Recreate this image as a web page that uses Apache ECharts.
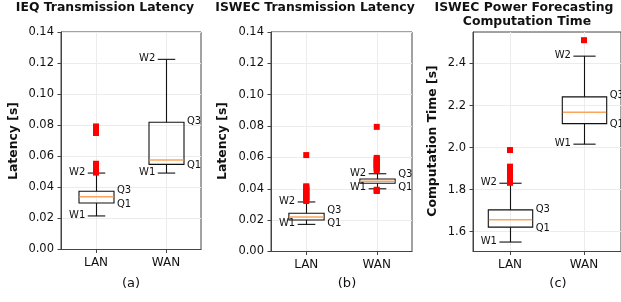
<!DOCTYPE html>
<html>
<head>
<meta charset="utf-8">
<script src="https://cdn.jsdelivr.net/npm/echarts@6/dist/echarts.min.js"></script>
<style>
  html, body { margin: 0; padding: 0; background: #fff; }
  #chart { width: 621px; height: 302px; }
</style>
</head>
<body>
<div id="chart"></div>
<script>
// ---- data ----
const categories = ['LAN', 'WAN'];
const panelTitles = ['IEQ Transmission Latency', 'ISWEC Transmission Latency', 'ISWEC Power Forecasting', 'Computation Time'];
const yNames = ['Latency [s]', 'Latency [s]', 'Computation Time [s]'];
const panelTags = ['(a)', '(b)', '(c)'];
const latencyTicks = [0, 0.02, 0.04, 0.06, 0.08, 0.10, 0.12, 0.14];
const computeTicks = [1.6, 1.8, 2.0, 2.2, 2.4];

// [W1, Q1, median, Q3, W2] for LAN, WAN
const ieqBoxes = [
    [0.0216, 0.0299, 0.0340, 0.0375, 0.0492],
    [0.0492, 0.0548, 0.0576, 0.0819, 0.1224]
];
const iswecBoxes = [
    [0.0173, 0.0201, 0.0220, 0.0244, 0.0316],
    [0.0400, 0.0435, 0.0448, 0.0462, 0.0496]
];
const computeBoxes = [
    [1.550, 1.621, 1.656, 1.703, 1.830],
    [2.016, 2.114, 2.168, 2.241, 2.435]
];

const ieqOutliersLAN = [0.0495, 0.0505, 0.0515, 0.0530, 0.0545, 0.0552, 0.0750, 0.0765, 0.0780, 0.0792];
const ieqOutliersWAN = [];
const iswecOutliersLAN = [0.0322, 0.0330, 0.0338, 0.0346, 0.0354, 0.0362, 0.0370, 0.0378, 0.0386,
    0.0394, 0.0402, 0.0410, 0.0416, 0.0615];
const iswecOutliersWAN = [0.0386, 0.0390, 0.0394, 0.0520, 0.0528, 0.0536, 0.0544, 0.0552, 0.0560,
    0.0568, 0.0576, 0.0584, 0.0592, 0.0597, 0.0795];
const computeOutliersLAN = [1.832, 1.840, 1.848, 1.856, 1.864, 1.872, 1.880, 1.888, 1.896, 1.904, 1.909, 1.988];
const computeOutliersWAN = [2.511];

const boxLabels = ['W1', 'Q1', 'Q3', 'W2'];

// ---- chart ----
const FONT = '"DejaVu Sans", Verdana, sans-serif';
const TEXT = '#111';

const grids = [
    { left: 61, top: 32, width: 140, height: 217.5 },
    { left: 271, top: 32, width: 141, height: 219.5 },
    { left: 473, top: 32, width: 151, height: 219.5 }
];

function boxData(boxes) {
    return boxes.map((b, i) => [i].concat(b));
}

function outlierData(lan, wan) {
    return lan.map(v => [0, v]).concat(wan.map(v => [1, v]));
}

function makeRenderer(widthFrac) {
    return function (params, api) {
        const idx = api.value(0);
        const vals = [1, 2, 3, 4, 5].map(k => api.value(k));
        const x = Math.round(api.coord([idx, vals[0]])[0]) + 0.5;
        const ys = vals.map(v => api.coord([idx, v])[1]);
        const unit = api.size([1, 0])[0];
        const half = unit * widthFrac / 2;
        const capHalf = half / 2;
        const line = { stroke: '#111', lineWidth: 1.1 };

        // label positions, pushed apart when Q1/Q3 sit close together
        let q3y = ys[3] - 1, q1y = ys[1] + 1;
        if (q1y - q3y < 13) {
            const mid = (q1y + q3y) / 2;
            q3y = mid - 6.5;
            q1y = mid + 6.5;
        }
        const txt = (t, tx, ty, align) => ({
            type: 'text',
            style: { text: t, x: tx, y: ty, align: align, verticalAlign: 'middle', font: '10px ' + FONT, fill: TEXT }
        });

        return {
            type: 'group',
            children: [
                { type: 'line', shape: { x1: x, y1: ys[0], x2: x, y2: ys[1] }, style: line },
                { type: 'line', shape: { x1: x, y1: ys[3], x2: x, y2: ys[4] }, style: line },
                { type: 'line', shape: { x1: x - capHalf, y1: ys[0], x2: x + capHalf, y2: ys[0] }, style: line },
                { type: 'line', shape: { x1: x - capHalf, y1: ys[4], x2: x + capHalf, y2: ys[4] }, style: line },
                { type: 'rect', shape: { x: x - half, y: ys[3], width: half * 2, height: ys[1] - ys[3] },
                  style: { fill: 'none', stroke: '#111', lineWidth: 1.1 } },
                { type: 'line', shape: { x1: x - half + 0.5, y1: ys[2], x2: x + half - 0.5, y2: ys[2] },
                  style: { stroke: '#fba45a', lineWidth: 1.6 } },
                txt(boxLabels[0], x - capHalf - 2.5, ys[0] - 1, 'right'),
                txt(boxLabels[3], x - capHalf - 2.5, ys[4] - 0.5, 'right'),
                txt(boxLabels[2], x + half + 3, q3y, 'left'),
                txt(boxLabels[1], x + half + 3, q1y, 'left')
            ]
        };
    };
}

function yAxisFor(i, min, max, ticks, digits) {
    return {
        gridIndex: i,
        type: 'value',
        min: min,
        max: max,
        axisLine: { show: true, onZero: false, lineStyle: { color: '#444', width: 1 } },
        axisTick: { show: true, length: 3.5, customValues: ticks, lineStyle: { color: '#444' } },
        axisLabel: { customValues: ticks, margin: 7, fontFamily: FONT, fontSize: 11.5, color: TEXT,
            formatter: v => v.toFixed(digits) },
        splitLine: { show: true, lineStyle: { color: '#ececec', width: 1 } }
    };
}

function xAxisFor(i) {
    return {
        gridIndex: i,
        type: 'value',
        min: -0.5,
        max: 1.5,
        axisLine: { show: true, onZero: false, lineStyle: { color: '#444', width: 1 } },
        axisTick: { show: true, length: 3.5, customValues: [0, 1], lineStyle: { color: '#444' } },
        axisLabel: { customValues: [0, 1], margin: 7, fontFamily: FONT, fontSize: 12, color: TEXT,
            formatter: v => categories[Math.round(v)] },
        splitLine: { show: true, lineStyle: { color: '#ececec', width: 1 } }
    };
}

const boxSets = [ieqBoxes, iswecBoxes, computeBoxes];
const outlierSets = [
    outlierData(ieqOutliersLAN, ieqOutliersWAN),
    outlierData(iswecOutliersLAN, iswecOutliersWAN),
    outlierData(computeOutliersLAN, computeOutliersWAN)
];
const widthFracs = [0.5, 0.5, 0.6];

const series = [];
for (let i = 0; i < 3; i++) {
    series.push({
        type: 'custom',
        xAxisIndex: i,
        yAxisIndex: i,
        renderItem: makeRenderer(widthFracs[i]),
        data: boxData(boxSets[i]),
        z: 3,
        silent: true
    });
    series.push({
        type: 'scatter',
        xAxisIndex: i,
        yAxisIndex: i,
        symbol: 'rect',
        symbolSize: 6,
        itemStyle: { color: '#ff0000', opacity: 1 },
        data: outlierSets[i],
        z: 4,
        silent: true
    });
}

const titleStyle = { font: 'bold 12.4px ' + FONT, fill: TEXT, align: 'center', verticalAlign: 'middle' };
const graphic = [
    { type: 'text', x: 105, y: 7.5, style: Object.assign({ text: panelTitles[0] }, titleStyle) },
    { type: 'text', x: 315, y: 7.5, style: Object.assign({ text: panelTitles[1] }, titleStyle) },
    { type: 'text', x: 524, y: 7.5, style: Object.assign({ text: panelTitles[2] }, titleStyle) },
    { type: 'text', x: 527, y: 22, style: Object.assign({ text: panelTitles[3] }, titleStyle) }
];
const yNameX = [14, 223, 433];
const tagX = [131, 347, 558];
for (let i = 0; i < 3; i++) {
    graphic.push({
        type: 'text', x: yNameX[i], y: 141, rotation: Math.PI / 2,
        style: Object.assign({ text: yNames[i] }, titleStyle)
    });
    graphic.push({
        type: 'text', x: tagX[i], y: 284,
        style: { text: panelTags[i], font: '13px ' + FONT, fill: TEXT, align: 'center', verticalAlign: 'middle' }
    });
}

const chart = echarts.init(document.getElementById('chart'), null, { renderer: 'canvas' });
chart.setOption({
    animation: false,
    backgroundColor: '#fff',
    grid: grids.map(g => Object.assign({ show: true, borderColor: '#444', borderWidth: 1, backgroundColor: 'transparent' }, g)),
    xAxis: [0, 1, 2].map(xAxisFor),
    yAxis: [
        yAxisFor(0, 0, 0.14, latencyTicks, 2),
        yAxisFor(1, 0, 0.14, latencyTicks, 2),
        yAxisFor(2, 1.505, 2.55, computeTicks, 1)
    ],
    series: series,
    graphic: graphic
});
</script>
</body>
</html>
